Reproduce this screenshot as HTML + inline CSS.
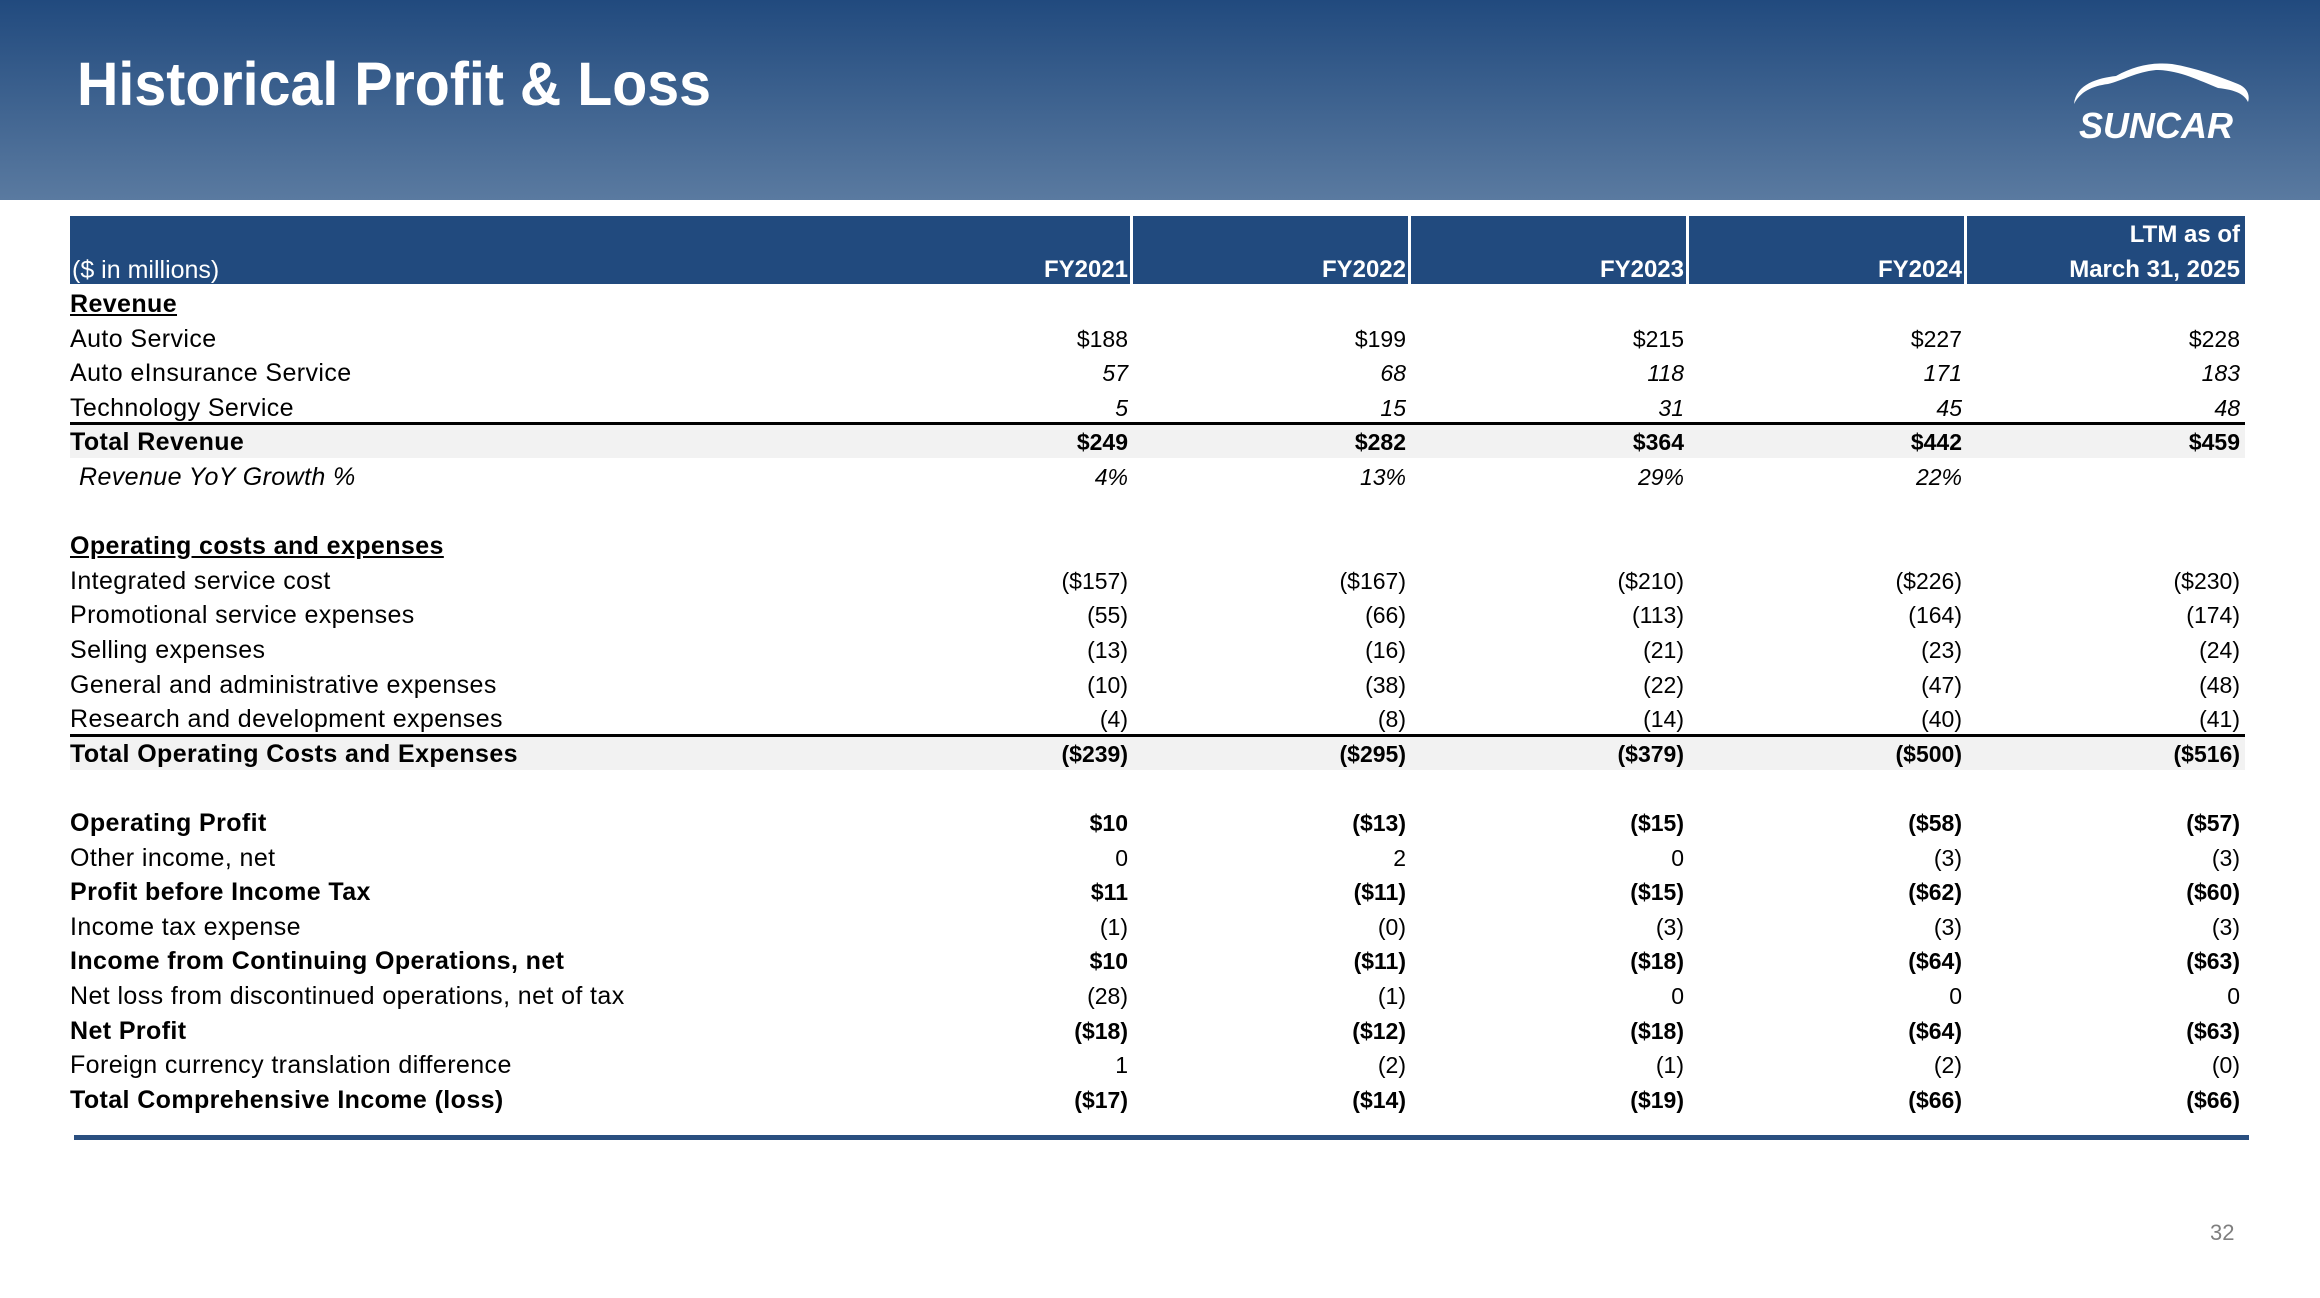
<!DOCTYPE html>
<html><head><meta charset="utf-8"><style>
body{margin:0;width:2320px;height:1298px;background:#fff;position:relative;overflow:hidden;font-family:"Liberation Sans",sans-serif;}
.hdr{position:absolute;left:0;top:0;width:2320px;height:200px;background:linear-gradient(#214a7e,#5a7aa0);}
.title{position:absolute;left:77px;top:49px;color:#fff;font-weight:bold;font-size:61px;transform:scaleX(0.94);transform-origin:left top;white-space:nowrap;}
.th{position:absolute;top:216px;height:68px;background:#214a7e;}
.tht{position:absolute;color:#fff;font-weight:bold;font-size:24px;text-align:right;line-height:34px;}
.row{position:absolute;left:70px;width:2175px;height:34.6px;font-size:23px;line-height:34.6px;color:#000;}
.row span{position:absolute;white-space:nowrap;}
.l{left:0;font-size:25px;letter-spacing:0.4px}
.c1,.c2,.c3,.c4,.c5{text-align:right;}
.c1{right:1117px}.c2{right:839px}.c3{right:561px}.c4{right:283px}.c5{right:5px}
.b{font-weight:bold}.i{font-style:italic}.u span.l{text-decoration:underline}
.tot{background:#f2f2f2}
.line{position:absolute;left:70px;width:2175px;height:3px;background:#000;}
</style></head><body>
<div class="hdr"></div>
<div class="title">Historical Profit &amp; Loss</div>
<svg style="position:absolute;left:2068px;top:62px" width="184" height="84" viewBox="0 0 184 84">
<path d="M6 42 C8 22 30 16 48 14 C66 4 84 0 104 2 C128 6 150 14 170 22 C180 26 182 34 180 40 C176 32 168 28 150 26 C130 18 110 8 88 8 C68 10 56 18 40 22 C24 24 12 30 6 42 Z" fill="#fff"/>
<text x="88" y="76" text-anchor="middle" fill="#fff" font-family="Liberation Sans" font-weight="bold" font-style="italic" font-size="36">SUNCAR</text>
</svg>
<div class="th" style="left:70px;width:1060px"></div>
<div class="th" style="left:1133px;width:275px"></div>
<div class="th" style="left:1411px;width:275px"></div>
<div class="th" style="left:1689px;width:275px"></div>
<div class="th" style="left:1967px;width:278px"></div>
<div class="tht" style="left:72px;top:253px;font-weight:normal;text-align:left;font-size:25px">($ in millions)</div>
<div class="tht" style="right:1192px;top:253px">FY2021</div>
<div class="tht" style="right:914px;top:253px">FY2022</div>
<div class="tht" style="right:636px;top:253px">FY2023</div>
<div class="tht" style="right:358px;top:253px">FY2024</div>
<div class="tht" style="right:80px;top:218px">LTM as of</div>
<div class="tht" style="right:80px;top:253px">March 31, 2025</div>

<div class="row b u" style="top:287px"><span class="l">Revenue</span></div>
<div class="row" style="top:321.6px"><span class="l">Auto Service</span><span class="c1">$188</span><span class="c2">$199</span><span class="c3">$215</span><span class="c4">$227</span><span class="c5">$228</span></div>
<div class="row" style="top:356.2px"><span class="l">Auto eInsurance Service</span><span class="c1 i">57</span><span class="c2 i">68</span><span class="c3 i">118</span><span class="c4 i">171</span><span class="c5 i">183</span></div>
<div class="row" style="top:390.8px"><span class="l">Technology Service</span><span class="c1 i">5</span><span class="c2 i">15</span><span class="c3 i">31</span><span class="c4 i">45</span><span class="c5 i">48</span></div>
<div class="line" style="top:422px"></div>
<div class="row b tot" style="top:425px;height:33px"><span class="l">Total Revenue</span><span class="c1">$249</span><span class="c2">$282</span><span class="c3">$364</span><span class="c4">$442</span><span class="c5">$459</span></div>
<div class="row i" style="top:460px"><span class="l" style="left:9px">Revenue YoY Growth %</span><span class="c1">4%</span><span class="c2">13%</span><span class="c3">29%</span><span class="c4">22%</span></div>
<div class="row b u" style="top:529.2px"><span class="l">Operating costs and expenses</span></div>
<div class="row" style="top:563.8px"><span class="l">Integrated service cost</span><span class="c1">($157)</span><span class="c2">($167)</span><span class="c3">($210)</span><span class="c4">($226)</span><span class="c5">($230)</span></div>
<div class="row" style="top:598.4px"><span class="l">Promotional service expenses</span><span class="c1">(55)</span><span class="c2">(66)</span><span class="c3">(113)</span><span class="c4">(164)</span><span class="c5">(174)</span></div>
<div class="row" style="top:633px"><span class="l">Selling expenses</span><span class="c1">(13)</span><span class="c2">(16)</span><span class="c3">(21)</span><span class="c4">(23)</span><span class="c5">(24)</span></div>
<div class="row" style="top:667.6px"><span class="l">General and administrative expenses</span><span class="c1">(10)</span><span class="c2">(38)</span><span class="c3">(22)</span><span class="c4">(47)</span><span class="c5">(48)</span></div>
<div class="row" style="top:702.2px"><span class="l">Research and development expenses</span><span class="c1">(4)</span><span class="c2">(8)</span><span class="c3">(14)</span><span class="c4">(40)</span><span class="c5">(41)</span></div>
<div class="line" style="top:734px"></div>
<div class="row b tot" style="top:737px;height:33px"><span class="l">Total Operating Costs and Expenses</span><span class="c1">($239)</span><span class="c2">($295)</span><span class="c3">($379)</span><span class="c4">($500)</span><span class="c5">($516)</span></div>
<div class="row b" style="top:806px"><span class="l">Operating Profit</span><span class="c1">$10</span><span class="c2">($13)</span><span class="c3">($15)</span><span class="c4">($58)</span><span class="c5">($57)</span></div>
<div class="row" style="top:840.6px"><span class="l">Other income, net</span><span class="c1">0</span><span class="c2">2</span><span class="c3">0</span><span class="c4">(3)</span><span class="c5">(3)</span></div>
<div class="row b" style="top:875.2px"><span class="l">Profit before Income Tax</span><span class="c1">$11</span><span class="c2">($11)</span><span class="c3">($15)</span><span class="c4">($62)</span><span class="c5">($60)</span></div>
<div class="row" style="top:909.8px"><span class="l">Income tax expense</span><span class="c1">(1)</span><span class="c2">(0)</span><span class="c3">(3)</span><span class="c4">(3)</span><span class="c5">(3)</span></div>
<div class="row b" style="top:944.4px"><span class="l">Income from Continuing Operations, net</span><span class="c1">$10</span><span class="c2">($11)</span><span class="c3">($18)</span><span class="c4">($64)</span><span class="c5">($63)</span></div>
<div class="row" style="top:979px"><span class="l">Net loss from discontinued operations, net of tax</span><span class="c1">(28)</span><span class="c2">(1)</span><span class="c3">0</span><span class="c4">0</span><span class="c5">0</span></div>
<div class="row b" style="top:1013.6px"><span class="l">Net Profit</span><span class="c1">($18)</span><span class="c2">($12)</span><span class="c3">($18)</span><span class="c4">($64)</span><span class="c5">($63)</span></div>
<div class="row" style="top:1048.2px"><span class="l">Foreign currency translation difference</span><span class="c1">1</span><span class="c2">(2)</span><span class="c3">(1)</span><span class="c4">(2)</span><span class="c5">(0)</span></div>
<div class="row b" style="top:1082.8px"><span class="l">Total Comprehensive Income (loss)</span><span class="c1">($17)</span><span class="c2">($14)</span><span class="c3">($19)</span><span class="c4">($66)</span><span class="c5">($66)</span></div>
<div style="position:absolute;left:74px;top:1135px;width:2175px;height:5px;background:#2a4f80"></div>
<div style="position:absolute;left:2210px;top:1220px;font-size:22px;color:#7f7f7f">32</div>
</body></html>
